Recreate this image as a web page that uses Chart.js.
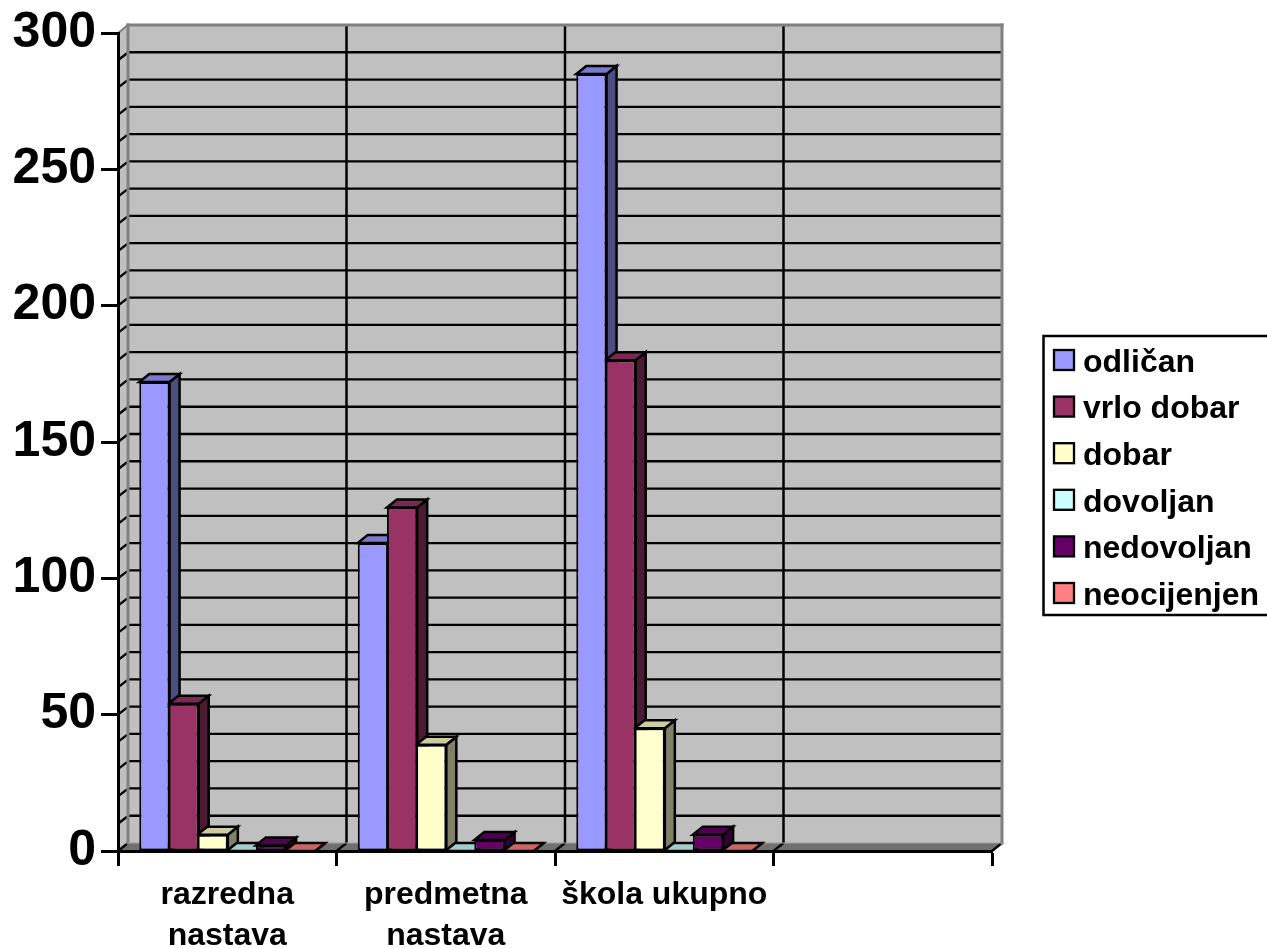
<!DOCTYPE html>
<html>
<head>
<meta charset="utf-8">
<style>html,body{margin:0;padding:0;background:#fff;overflow:hidden}canvas{display:block}</style>
<script src="https://cdn.jsdelivr.net/npm/chart.js@4"></script>
</head>
<body>
<canvas id="c" width="1267" height="948"></canvas>
<script>
const categories = [["razredna","nastava"],["predmetna","nastava"],"škola ukupno",""];
const seriesNames = ["odličan","vrlo dobar","dobar","dovoljan","nedovoljan","neocijenjen"];
const odlican = [172,113,285];
const vrloDobar = [54,126,180];
const dobar = [6,39,45];
const dovoljan = [0,0,0];
const nedovoljan = [2,4,6];
const neocijenjen = [0,0,0];
const seriesValues = [odlican,vrloDobar,dobar,dovoljan,nedovoljan,neocijenjen];
const seriesColors = ["#9999FF","#993366","#FFFFCC","#CCFFFF","#660066","#FF8080"];
const gridStep = 10;
const DX = 10, DY = 8;
const FONT = '"Liberation Sans", Arial, sans-serif';

function shade(hex,f){
  const n=parseInt(hex.slice(1),16);
  const c=[n>>16&255,n>>8&255,n&255].map(v=>Math.round(v*f));
  return `rgb(${c[0]},${c[1]},${c[2]})`;
}
function poly(ctx,pts,fill,stroke,lw){
  ctx.beginPath();
  pts.forEach((p,i)=>i?ctx.lineTo(p[0],p[1]):ctx.moveTo(p[0],p[1]));
  ctx.closePath();
  if(fill){ctx.fillStyle=fill;ctx.fill();}
  if(stroke){ctx.strokeStyle=stroke;ctx.lineWidth=lw;ctx.stroke();}
}
function line(ctx,x1,y1,x2,y2,color,lw){
  ctx.beginPath();ctx.moveTo(x1,y1);ctx.lineTo(x2,y2);
  ctx.strokeStyle=color;ctx.lineWidth=lw;ctx.stroke();
}

const walls = {
  id:'walls',
  beforeDraw(chart){
    const ctx=chart.ctx,a=chart.chartArea,y=chart.scales.y,x=chart.scales.x;
    ctx.save();
    ctx.fillStyle='#fff';ctx.fillRect(0,0,chart.width,chart.height);
    ctx.lineJoin='miter';
    poly(ctx,[[a.left,a.top],[a.left+DX,a.top-DY],[a.left+DX,a.bottom-DY],[a.left,a.bottom]],'#c0c0c0');
    poly(ctx,[[a.left+DX,a.top-DY],[a.right+DX,a.top-DY],[a.right+DX,a.bottom-DY],[a.left+DX,a.bottom-DY]],'#c0c0c0');
    poly(ctx,[[a.left,a.bottom],[a.left+DX,a.bottom-DY],[a.right+DX,a.bottom-DY],[a.right,a.bottom]],'#707070');
    for(let v=gridStep;v<y.max;v+=gridStep){
      const py=y.getPixelForValue(v);
      line(ctx,a.left+DX,py-DY,a.right+DX,py-DY,'#000',2.3);
      line(ctx,a.left,py,a.left+DX-1,py-DY+1,'#000',2.3);
    }
    for(let i=1;i<categories.length;i++){
      const px=(x.getPixelForTick(i-1)+x.getPixelForTick(i))/2;
      line(ctx,px+DX,a.top-DY,px+DX,a.bottom-DY,'#000',2.5);
    }
    for(let i=0;i<=categories.length;i++){
      const w=x.width/categories.length, px=a.left+i*w;
      line(ctx,px,a.bottom,px+DX,a.bottom-DY,'#000',2.3);
    }
    ctx.lineCap='square';
    line(ctx,a.left+DX,a.top-DY,a.right+DX,a.top-DY,'#808080',3);
    line(ctx,a.right+DX,a.top-DY,a.right+DX,a.bottom-DY,'#808080',3);
    line(ctx,a.left+DX,a.top-DY,a.left+DX,a.bottom-DY,'#808080',3);
    line(ctx,a.left,a.top,a.left+DX,a.top-DY,'#808080',2);
    line(ctx,a.left+DX,a.bottom-DY,a.right+DX,a.bottom-DY,'#a0a0a0',1);
    ctx.restore();
    drawLegend(chart);
  },
  beforeDatasetsDraw(chart){
    const ctx=chart.ctx;
    ctx.save();
    ctx.lineJoin='miter';
    chart.data.datasets.forEach((ds,di)=>{
      chart.getDatasetMeta(di).data.forEach(el=>{
        const p=el.getProps(['x','y','base','width'],true);
        const l=p.x-p.width/2,r=p.x+p.width/2;
        poly(ctx,[[r,p.y],[r+DX,p.y-DY],[r+DX,p.base-DY],[r,p.base]],shade(ds.backgroundColor,0.5),'#000',2.5);
        poly(ctx,[[l,p.y],[r,p.y],[r+DX,p.y-DY],[l+DX,p.y-DY]],shade(ds.backgroundColor,0.8),'#000',2.5);
      });
    });
    ctx.restore();
  }
};

function drawLegend(chart){
  const ctx=chart.ctx;
  ctx.save();
  ctx.fillStyle='#fff';
  ctx.fillRect(1043,336,230,279);
  ctx.strokeStyle='#000';ctx.lineWidth=2.5;
  ctx.strokeRect(1043.5,336,230,279);
  ctx.font='bold 32px '+FONT;
  ctx.textBaseline='middle';ctx.textAlign='left';
  chart.data.datasets.forEach((ds,i)=>{
    const cy=360+i*46.6;
    ctx.fillStyle=ds.backgroundColor;
    ctx.fillRect(1054,cy-10,20,20);
    ctx.lineWidth=2.3;ctx.strokeStyle='#000';
    ctx.strokeRect(1054,cy-10,20,20);
    ctx.fillStyle='#000';
    ctx.fillText(ds.label,1083,cy+3);
  });
  ctx.restore();
}

new Chart(document.getElementById('c'),{
  type:'bar',
  data:{
    labels:categories,
    datasets:seriesNames.map((n,i)=>({
      label:n,data:seriesValues[i],
      backgroundColor:seriesColors[i],borderColor:'#000',borderWidth:2,borderSkipped:false
    }))
  },
  options:{
    responsive:false,animation:false,devicePixelRatio:1,
    layout:{padding:{left:0,top:33,right:275,bottom:0}},
    datasets:{bar:{categoryPercentage:0.8,barPercentage:1.04}},
    plugins:{legend:{display:false},title:{display:false},tooltip:{enabled:false}},
    scales:{
      x:{
        afterFit(s){s.height=97;},
        grid:{drawOnChartArea:false,drawTicks:true,tickLength:15,tickColor:'#000',tickWidth:3},
        border:{display:true,color:'#000',width:3},
        ticks:{color:'#000',padding:9,maxRotation:0,minRotation:0,autoSkip:false,
          font:{family:FONT,size:32,weight:'bold',lineHeight:41/32}}
      },
      y:{
        min:0,max:300,
        afterFit(s){s.width=118;},
        grid:{drawOnChartArea:false,drawTicks:true,tickLength:17,tickColor:'#000',tickWidth:3},
        border:{display:true,color:'#000',width:3},
        ticks:{stepSize:50,color:'#000',padding:5,
          font:{family:FONT,size:50,weight:'bold',lineHeight:1}}
      }
    }
  },
  plugins:[walls]
});
</script>
</body>
</html>
